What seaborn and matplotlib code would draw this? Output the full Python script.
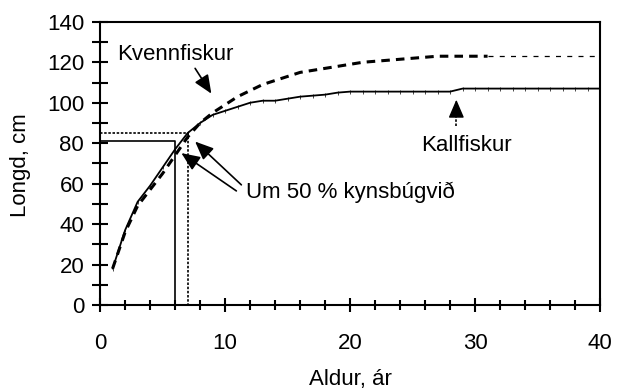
import matplotlib
matplotlib.use("Agg")
import matplotlib.pyplot as plt
from matplotlib.ticker import MultipleLocator
import numpy as np
import pandas as pd
import seaborn as sns

# Growth curves: length (cm) by age (years)
male_age = list(range(1, 41))
male_len = [18, 37, 51, 59, 68, 77, 85, 90, 94, 96,
            98, 100, 101, 101, 102, 103, 103.5, 104, 105, 105.5,
            105.5, 105.5, 105.5, 105.5, 105.5, 105.5, 105.5, 105.5, 107, 107,
            107, 107, 107, 107, 107, 107, 107, 107, 107, 107]

female_age = list(range(1, 32))
female_len = [18, 36, 49, 57, 65, 74, 83, 90, 95, 99,
              103, 106, 109, 111, 113, 115, 116, 117, 118, 119,
              120, 120.5, 121, 121.5, 122, 122.5, 123, 123, 123, 123,
              123]
female_ext_age = [31, 40]
female_ext_len = [123, 123]

# Age and length at 50 % maturity
male_mat_age, male_mat_len = 6, 81
female_mat_age, female_mat_len = 7, 85

sns.set_style("ticks")
plt.rcParams["font.family"] = ["Liberation Sans", "DejaVu Sans"]
plt.rcParams["text.color"] = "black"
plt.rcParams["axes.labelcolor"] = "black"

fig = plt.figure(figsize=(6.18, 3.90), dpi=100)
ax = fig.add_axes([0.162, 0.218, 0.809, 0.726])

male = pd.DataFrame({"age": male_age, "len": male_len})
female = pd.DataFrame({"age": female_age, "len": female_len})
female_ext = pd.DataFrame({"age": female_ext_age, "len": female_ext_len})

sns.lineplot(data=male, x="age", y="len", ax=ax, color="black", lw=1.3,
             marker="|", markersize=3, markeredgewidth=0.5, markeredgecolor="black")
sns.lineplot(data=female, x="age", y="len", ax=ax, color="black", lw=2.2,
             linestyle=(0, (2.8, 2.0)))
sns.lineplot(data=female_ext, x="age", y="len", ax=ax, color="black", lw=0.9,
             linestyle=(0, (4, 5)))

# Maturity reference lines
ax.plot([0, male_mat_age, male_mat_age], [male_mat_len, male_mat_len, 0],
        color="black", lw=1.2)
ax.plot([0, female_mat_age, female_mat_age], [female_mat_len, female_mat_len, 0],
        color="black", lw=1.2, linestyle=(0, (1.5, 1)))

ax.set_xlim(0, 40)
ax.set_ylim(0, 140)
ax.xaxis.set_major_locator(MultipleLocator(10))
ax.xaxis.set_minor_locator(MultipleLocator(2))
ax.yaxis.set_major_locator(MultipleLocator(20))
ax.yaxis.set_minor_locator(MultipleLocator(10))
ax.tick_params(which="both", direction="inout", width=1.5, colors="black",
               labelsize=16)
ax.tick_params(axis="x", which="major", length=10, pad=15)
ax.tick_params(axis="x", which="minor", length=7)
ax.tick_params(axis="y", which="both", length=11, pad=6)
for s in ax.spines.values():
    s.set_linewidth(1.5)
    s.set_color("black")
    s.set_visible(True)

ax.set_xlabel("Aldur, ár", fontsize=16)
ax.set_ylabel("Longd, cm", fontsize=16)
ax.xaxis.set_label_coords(0.5, -0.225)
ax.yaxis.set_label_coords(-0.138, 0.495)

# Labels and arrows
head = "-|>,head_length=0.7,head_width=0.3"
ax.text(1.4, 124, "Kvennfiskur", fontsize=16, va="center", ha="left")
ax.annotate("", xy=(8.9, 104.5), xytext=(7.6, 117),
            arrowprops=dict(arrowstyle=head, color="black", lw=1.2,
                            mutation_scale=16, shrinkA=0, shrinkB=0))

ax.text(11.7, 55.5, "Um 50 % kynsbúgvið", fontsize=16, va="center", ha="left")
ax.annotate("", xy=(7.6, 80.8), xytext=(11.3, 59.4),
            arrowprops=dict(arrowstyle=head, color="black", lw=1.2,
                            mutation_scale=16, shrinkA=0, shrinkB=0))
ax.annotate("", xy=(6.5, 75.1), xytext=(10.9, 56.4),
            arrowprops=dict(arrowstyle=head, color="black", lw=1.2,
                            mutation_scale=16, shrinkA=0, shrinkB=0))

ax.text(29.3, 79, "Kallfiskur", fontsize=16, va="center", ha="center")
ax.plot([28.5, 28.5], [88.3, 96], color="black", lw=1.2, linestyle=(0, (1.5, 1)))
ax.annotate("", xy=(28.5, 101.5), xytext=(28.5, 95.5),
            arrowprops=dict(arrowstyle=head, color="black", lw=1.0,
                            mutation_scale=16, shrinkA=0, shrinkB=0))

fig.savefig("out.png", dpi=100)
